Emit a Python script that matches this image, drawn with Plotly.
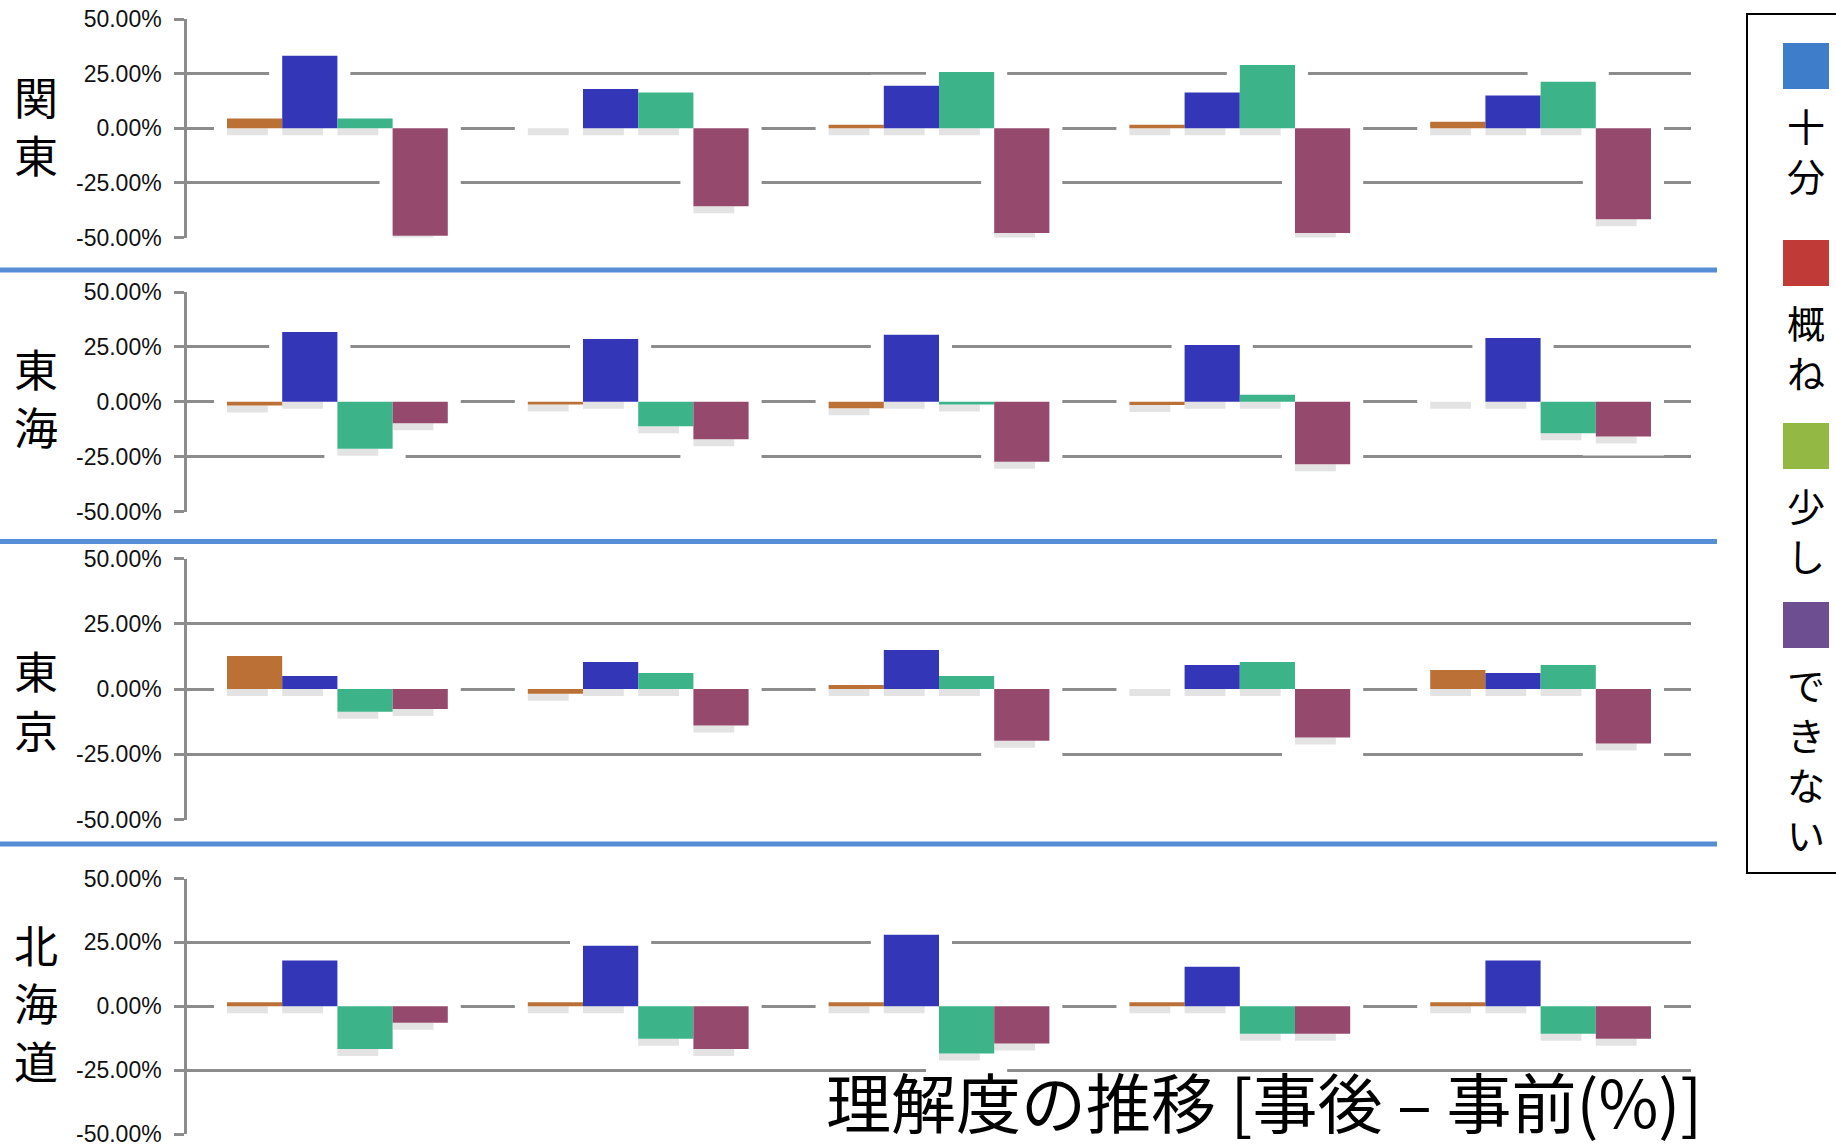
import plotly.graph_objects as go

W, H = 1836, 1148

# ---------------- data ----------------
regions = ["関東", "東海", "東京", "北海道"]
groups = [1, 2, 3, 4, 5]
series_names = ["十分", "概ね", "少し", "できない"]
bar_colors = ["#BB7136", "#3436B8", "#3DB389", "#954A6D"]
legend_colors = ["#3D7DCA", "#C03B37", "#94B844", "#6C4E91"]
tick_values = [-50, -25, 0, 25, 50]
tick_labels = [f"{v:.2f}%" for v in tick_values]
title_text = "理解度の推移 [事後 – 事前(%)]"

kanto_juubun = [4.5, 0.0, 1.6, 1.6, 3.0]
kanto_ookane = [33.2, 18.0, 19.5, 16.4, 15.0]
kanto_sukoshi = [4.5, 16.4, 25.7, 28.9, 21.3]
kanto_dekinai = [-49.2, -35.7, -47.9, -47.9, -41.6]

tokai_juubun = [-1.7, -1.2, -3.0, -1.5, 0.0]
tokai_ookane = [31.8, 28.6, 30.5, 25.9, 29.1]
tokai_sukoshi = [-21.4, -11.2, -1.2, 3.2, -14.4]
tokai_dekinai = [-9.8, -17.1, -27.3, -28.5, -15.8]

tokyo_juubun = [12.6, -1.8, 1.5, 0.0, 7.3]
tokyo_ookane = [5.0, 10.3, 14.9, 9.2, 6.1]
tokyo_sukoshi = [-8.7, 6.1, 5.0, 10.3, 9.2]
tokyo_dekinai = [-7.7, -14.0, -19.8, -18.6, -20.9]

hokkaido_juubun = [1.6, 1.6, 1.6, 1.6, 1.6]
hokkaido_ookane = [17.9, 23.7, 28.0, 15.5, 17.9]
hokkaido_sukoshi = [-16.7, -12.7, -18.5, -10.8, -10.8]
hokkaido_dekinai = [-6.5, -16.7, -14.6, -10.8, -12.7]

panel_data = [
    [kanto_juubun, kanto_ookane, kanto_sukoshi, kanto_dekinai],
    [tokai_juubun, tokai_ookane, tokai_sukoshi, tokai_dekinai],
    [tokyo_juubun, tokyo_ookane, tokyo_sukoshi, tokyo_dekinai],
    [hokkaido_juubun, hokkaido_ookane, hokkaido_sukoshi, hokkaido_dekinai],
]

# ---------------- layout geometry (pixels) ----------------
plot_left, plot_right = 187, 1691
panel_px = [(19, 237.5), (292, 511.5), (558.5, 819.5), (878.5, 1134)]  # (+50%, -50%)
separators_y = [270, 541.5, 844]
label_centers = [127, 399, 701.5, 1004]
label_pitch = 58

GRID = "#8C8C8C"
TICKFONT = dict(family="Liberation Sans, Arial, sans-serif", size=23, color="#111111")
CJK = "Noto Sans CJK JP, Noto Sans CJK SC, sans-serif"

def px_x(x):
    return x / W

def px_y(y):
    return 1 - y / H

fig = go.Figure()

group_frac = 0.734
bw = group_frac / 4
cat_px = (plot_right - plot_left) / len(groups)
hx = 13 / cat_px  # horizontal halo (category units)

for p, series in enumerate(panel_data):
    top, bot = panel_px[p]
    unit = 100.0 / (bot - top)  # data units per pixel
    up_ext = 11 * unit
    down_ext = 19 * unit
    shadow_h = 7 * unit
    xa = "x" if p == 0 else f"x{p+1}"
    ya = "y" if p == 0 else f"y{p+1}"
    # halo (white glow that hides gridlines)
    for i, vals in enumerate(series):
        off = -group_frac / 2 + i * bw
        fig.add_trace(go.Bar(
            x=groups, y=[abs(v) + up_ext + down_ext for v in vals],
            base=[min(v, 0) - down_ext for v in vals],
            offset=off - hx, width=bw + 2 * hx,
            marker=dict(color="white", line=dict(width=0)),
            xaxis=xa, yaxis=ya, showlegend=False, hoverinfo="skip"))
    # soft shadow below bars
    for i, vals in enumerate(series):
        off = -group_frac / 2 + i * bw
        fig.add_trace(go.Bar(
            x=groups, y=[shadow_h] * len(vals),
            base=[min(v, 0) - shadow_h for v in vals],
            offset=off, width=bw * 0.74,
            marker=dict(color="#E3E3E3", line=dict(width=0)),
            xaxis=xa, yaxis=ya, showlegend=False, hoverinfo="skip"))
    # actual bars
    for i, vals in enumerate(series):
        off = -group_frac / 2 + i * bw
        fig.add_trace(go.Bar(
            x=groups, y=vals, offset=off, width=bw,
            name=series_names[i],
            marker=dict(color=bar_colors[i], line=dict(width=0)),
            xaxis=xa, yaxis=ya, showlegend=False))

layout = dict(
    width=W, height=H,
    margin=dict(l=0, r=0, t=0, b=0, autoexpand=False),
    paper_bgcolor="white", plot_bgcolor="white",
    barmode="overlay",
    showlegend=False,
)

for p in range(4):
    top, bot = panel_px[p]
    xk = "xaxis" if p == 0 else f"xaxis{p+1}"
    yk = "yaxis" if p == 0 else f"yaxis{p+1}"
    layout[xk] = dict(
        domain=[px_x(plot_left), px_x(plot_right)],
        range=[0.5, len(groups) + 0.5],
        visible=False, fixedrange=True, automargin=False,
        anchor="y" if p == 0 else f"y{p+1}",
    )
    layout[yk] = dict(
        domain=[px_y(bot), px_y(top)],
        range=[-50, 50],
        tickmode="array", tickvals=tick_values, ticktext=tick_labels,
        showgrid=True, gridcolor=GRID, gridwidth=2.5,
        zeroline=False,
        showline=True, linecolor=GRID, linewidth=2.5,
        ticks="outside", ticklen=10, tickwidth=2.5, tickcolor=GRID,
        ticklabelstandoff=8,
        ticklabeloverflow="allow",
        tickfont=TICKFONT,
        automargin=False,
        anchor="x" if p == 0 else f"x{p+1}",
        fixedrange=True,
    )

fig.update_layout(**layout)

shapes = []
for sy in separators_y:
    shapes.append(dict(type="line", xref="paper", yref="paper",
                       x0=0, x1=px_x(1717), y0=px_y(sy), y1=px_y(sy),
                       line=dict(color="#558ED5", width=5)))

# legend frame
shapes.append(dict(type="rect", xref="paper", yref="paper",
                   x0=px_x(1747), x1=px_x(1860), y0=px_y(873), y1=px_y(14),
                   line=dict(color="black", width=2), fillcolor="rgba(0,0,0,0)"))

legend_sq_tops = [43, 240, 423, 602]
sq_size = 46
legend_pitch = 50
annotations = []
for k, name in enumerate(series_names):
    t = legend_sq_tops[k]
    shapes.append(dict(type="rect", xref="paper", yref="paper",
                       x0=px_x(1783), x1=px_x(1783 + sq_size),
                       y0=px_y(t + sq_size), y1=px_y(t),
                       line=dict(width=0), fillcolor=legend_colors[k]))
    for j, ch in enumerate(name):
        cy = t + sq_size + 37 + j * legend_pitch
        annotations.append(dict(text=ch, xref="paper", yref="paper",
                                x=px_x(1806), y=px_y(cy - 2), xanchor="center", yanchor="middle",
                                height=legend_pitch - 4, width=46, borderpad=0, borderwidth=0,
                                showarrow=False, font=dict(family=CJK, size=38, color="black")))

# region labels (vertical text)
for r, name in enumerate(regions):
    n = len(name)
    for j, ch in enumerate(name):
        cy = label_centers[r] + (j - (n - 1) / 2) * label_pitch
        annotations.append(dict(text=ch, xref="paper", yref="paper",
                                x=px_x(36), y=px_y(cy - 2), xanchor="center", yanchor="middle",
                                height=label_pitch - 4, width=48, borderpad=0, borderwidth=0,
                                showarrow=False, font=dict(family=CJK, size=44, color="black")))

annotations.append(dict(text=title_text, xref="paper", yref="paper",
                        x=px_x(1704), y=px_y(1100), xanchor="right", yanchor="middle",
                        showarrow=False, font=dict(family=CJK, size=65, color="black")))

fig.update_layout(shapes=shapes, annotations=annotations)

fig.write_html("out.html")
